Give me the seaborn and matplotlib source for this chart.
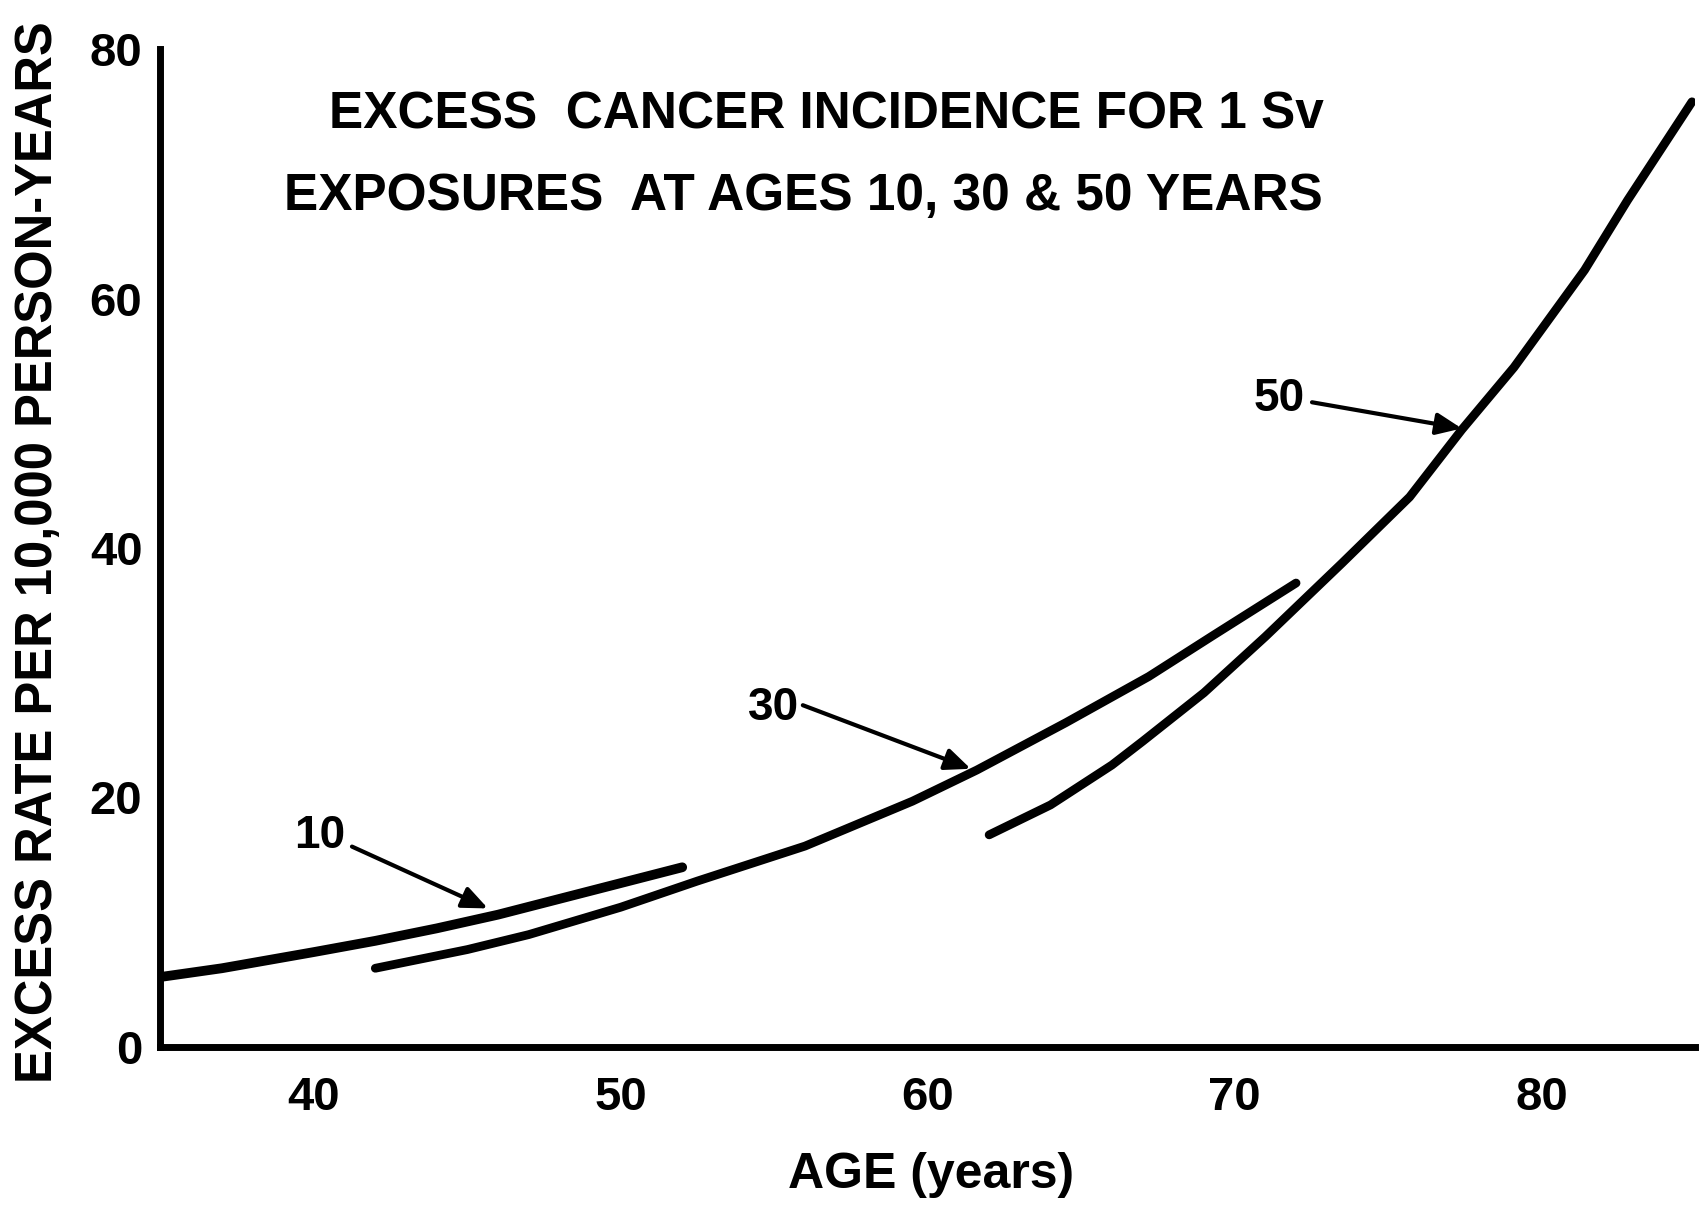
import pandas as pd
import matplotlib.pyplot as plt
import seaborn as sns

# Valores (edad alcanzada vs tasa en exceso)
age_10 = [35, 37, 40, 42, 44, 46, 49, 52]
rate_10 = [5.6, 6.3, 7.6, 8.5, 9.5, 10.6, 12.5, 14.4]

age_30 = [42, 45, 47, 50, 52.5, 56, 59.5, 61.6, 64.5, 67.2, 69.3, 72]
rate_30 = [6.3, 7.8, 9.0, 11.2, 13.3, 16.1, 19.7, 22.2, 26.0, 29.7, 33.0, 37.2]

age_50 = [62, 64, 66, 67, 69, 71, 73.5, 75.7, 77.4, 79.1, 81.4, 82.8, 84.9]
rate_50 = [17.0, 19.4, 22.6, 24.5, 28.4, 32.9, 38.8, 44.1, 49.5, 54.5, 62.3, 67.9, 75.8]

x_ticks = [40, 50, 60, 70, 80]
y_ticks = [0, 20, 40, 60, 80]

# etiquetas de las curvas: texto, centro del texto, inicio y punta de flecha
label_txt = ["10", "30", "50"]
label_pos = [(40.2, 16.9), (54.97, 27.2), (71.46, 52.0)]
arrow_start = [(41.24, 16.06), (55.93, 27.4), (72.52, 51.7)]
arrow_tip = [(45.67, 11.1), (61.4, 22.3), (77.4, 49.6)]

sns.set_style("white")
plt.rcParams["font.family"] = ["Liberation Sans", "DejaVu Sans"]
plt.rcParams["font.weight"] = "bold"
plt.rcParams["text.color"] = "black"
plt.rcParams["axes.labelcolor"] = "black"
plt.rcParams["xtick.color"] = "black"
plt.rcParams["ytick.color"] = "black"

fig = plt.figure(figsize=(17.07, 12.06), dpi=100)
ax = fig.add_axes([0.094, 0.132, 0.899, 0.827])

df10 = pd.DataFrame({"age": age_10, "rate": rate_10})
df30 = pd.DataFrame({"age": age_30, "rate": rate_30})
df50 = pd.DataFrame({"age": age_50, "rate": rate_50})

sns.lineplot(data=df10, x="age", y="rate", ax=ax, color="black", lw=7,
             sort=False, solid_capstyle="round", solid_joinstyle="round")
sns.lineplot(data=df30, x="age", y="rate", ax=ax, color="black", lw=6.3,
             sort=False, solid_capstyle="round", solid_joinstyle="round")
sns.lineplot(data=df50, x="age", y="rate", ax=ax, color="black", lw=6.3,
             sort=False, solid_capstyle="round", solid_joinstyle="round")

for txt, pos in zip(label_txt, label_pos):
    ax.text(pos[0], pos[1], txt, fontsize=33, fontweight="bold",
            ha="center", va="center")
for start, tip in zip(arrow_start, arrow_tip):
    ax.annotate("", xy=tip, xytext=start,
                arrowprops=dict(arrowstyle="-|>,head_length=0.7,head_width=0.3",
                                color="black", lw=3, mutation_scale=22,
                                shrinkA=0, shrinkB=0))

ax.set_xlim(35, 85)
ax.set_ylim(0, 80)
ax.set_xticks(x_ticks)
ax.set_yticks(y_ticks)

sns.despine(ax=ax)
for side in ["left", "bottom"]:
    ax.spines[side].set_linewidth(5)
    ax.spines[side].set_color("black")

ax.tick_params(axis="both", direction="in", length=17, width=5,
               labelsize=34, color="black")
ax.tick_params(axis="x", pad=21)
ax.tick_params(axis="y", pad=13)
for lab in ax.get_xticklabels() + ax.get_yticklabels():
    lab.set_fontweight("bold")

ax.set_xlabel("AGE (years)", fontsize=36, fontweight="bold")
ax.set_ylabel("EXCESS RATE PER 10,000 PERSON-YEARS", fontsize=36.5,
              fontweight="bold")
ax.xaxis.set_label_coords(0.502, -0.105)
ax.yaxis.set_label_coords(-0.0632, 0.496)

ax.text(0.434, 0.921, "EXCESS  CANCER INCIDENCE FOR 1 Sv", transform=ax.transAxes,
        ha="center", va="baseline", fontsize=37, fontweight="bold")
ax.text(0.419, 0.839, "EXPOSURES  AT AGES 10, 30 & 50 YEARS", transform=ax.transAxes,
        ha="center", va="baseline", fontsize=37, fontweight="bold")

plt.savefig("out.png", dpi=100)
plt.close()
